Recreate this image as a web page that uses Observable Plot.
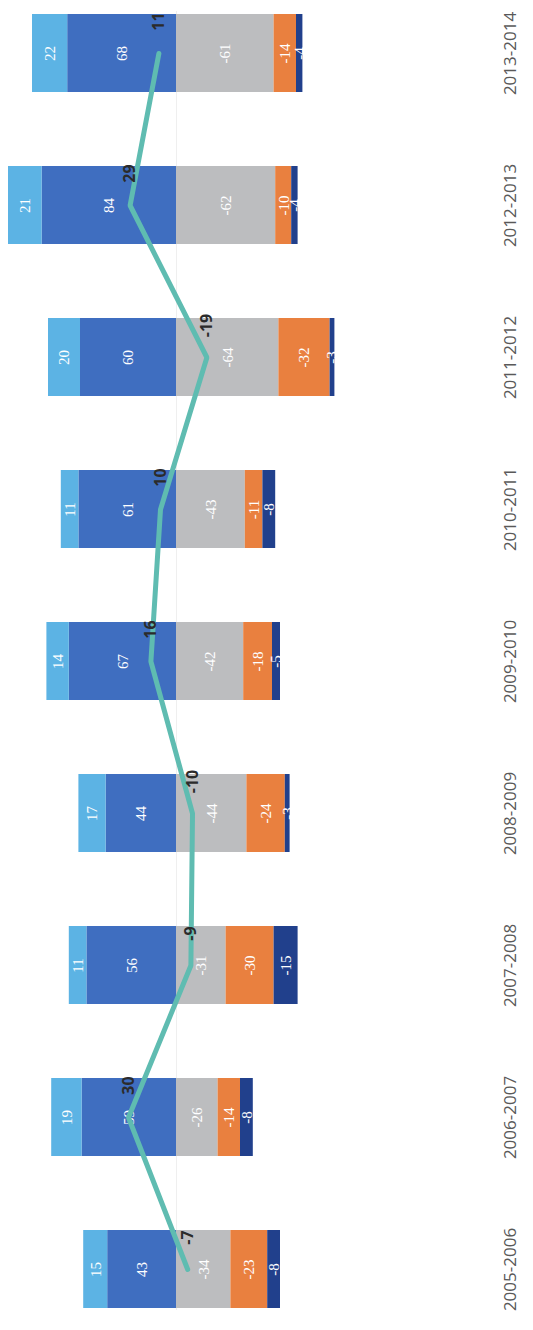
<!DOCTYPE html>
<html>
<head>
<meta charset="utf-8">
<script src="https://cdn.jsdelivr.net/npm/d3@7"></script>
<script src="https://cdn.jsdelivr.net/npm/@observablehq/plot@0.6"></script>
<style>
  html, body { margin: 0; padding: 0; background: #fff; }
  #chart svg { display: block; }
</style>
</head>
<body>
<div id="chart"></div>
<script>
const categories = ["2005-2006","2006-2007","2007-2008","2008-2009","2009-2010","2010-2011","2011-2012","2012-2013","2013-2014"];
const series1 = [15, 19, 11, 17, 14, 11, 20, 21, 22];      // light blue (outer positive)
const series2 = [43, 59, 56, 44, 67, 61, 60, 84, 68];      // dark blue (inner positive)
const series3 = [-34, -26, -31, -44, -42, -43, -64, -62, -61]; // grey
const series4 = [-23, -14, -30, -24, -18, -11, -32, -10, -14]; // orange
const series5 = [-8, -8, -15, -3, -5, -8, -3, -4, -4];     // navy
const net     = [-7, 30, -9, -10, 16, 10, -19, 29, 11];

// stacking order: inner positive first, then outer positive; negatives from zero outward
const seriesNames = ["Série 2", "Série 1", "Série 3", "Série 4", "Série 5"];
const seriesValues = [series2, series1, series3, series4, series5];
const seriesColors = ["#3f6ec0", "#5cb3e4", "#bcbdbf", "#e9803f", "#21408c"];

const rows = [];
seriesNames.forEach((s, si) => {
  categories.forEach((c, ci) => rows.push({cat: c, series: s, value: seriesValues[si][ci]}));
});
const netRows = categories.map((c, i) => ({cat: c, value: net[i]}));

const stackOpts = {x: "value", y: "cat", z: "series", order: seriesNames};

const chart = Plot.plot({
  width: 533,
  height: 1330,
  marginLeft: 0,
  marginRight: 0,
  marginTop: 11,
  marginBottom: 20,
  style: {background: "#fff", fontFamily: "'Open Sans', sans-serif"},
  x: {domain: [110, -223.125], axis: null},
  y: {type: "band", domain: categories.slice().reverse(), paddingInner: 0.49, paddingOuter: 0, axis: null},
  color: {type: "ordinal", domain: seriesNames, range: seriesColors},
  marks: [
    Plot.ruleX([0], {stroke: "#efefef", strokeWidth: 1}),
    Plot.barX(rows, Plot.stackX({...stackOpts, fill: "series"})),
    Plot.text(rows, Plot.stackX({
      ...stackOpts,
      text: d => String(d.value),
      rotate: -90,
      fill: "#fff",
      fontSize: 15,
      fontFamily: "'Liberation Serif', serif"
    })),
    Plot.line(netRows, {x: "value", y: "cat", stroke: "#5fbcb1", strokeWidth: 5, strokeLinejoin: "miter"}),
    Plot.text(netRows, {
      x: "value", y: "cat", text: d => String(d.value),
      rotate: -90, dy: -32, fontSize: 16, fontWeight: "bold", fill: "#2b2b2b"
    }),
    Plot.text(categories, {
      y: d => d, text: d => d, frameAnchor: "right", textAnchor: "middle", dx: -23,
      rotate: -90, fontSize: 17, fill: "#595959"
    })
  ]
});
document.getElementById("chart").append(chart);
</script>
</body>
</html>
